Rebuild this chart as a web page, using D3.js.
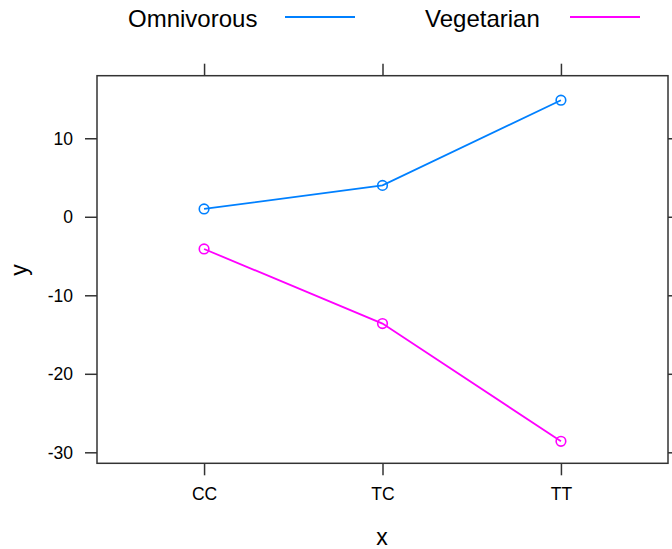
<!DOCTYPE html>
<html>
<head>
<meta charset="utf-8">
<script src="https://cdn.jsdelivr.net/npm/d3@7"></script>
<style>
  html, body { margin: 0; padding: 0; background: #fff; }
  svg { display: block; font-family: "Liberation Sans", Arial, Helvetica, sans-serif; }
</style>
</head>
<body>
<svg id="chart" width="672" height="549"></svg>
<script>
// ---- data ----
const categories = ["CC", "TC", "TT"];
const seriesNames = ["Omnivorous", "Vegetarian"];
const omnivorous = [1.0, 4.0, 14.85];
const vegetarian = [-4.1, -13.6, -28.6];
const yTicks = [-30, -20, -10, 0, 10];
const colors = ["#0080ff", "#ff00ff"];

const series = [omnivorous, vegetarian];

const svg = d3.select("#chart");
const pLeft = 97, pRight = 668, pTop = 75.7, pBottom = 463.3;

// x: factor levels 1..n with 0.6 padding (lattice style)
const x = d3.scaleLinear()
  .domain([1 - 0.6, categories.length + 0.6])
  .range([pLeft, pRight]);
const y = d3.scaleLinear()
  .domain([-31.4, 17.97])
  .range([pBottom, pTop]);

const axisColor = "#333";
const tickLen = 12;

// bottom axis
const xAxisB = d3.axisBottom(x)
  .tickValues(categories.map((c, i) => i + 1))
  .tickFormat((d) => categories[d - 1])
  .tickSize(tickLen).tickPadding(12);
const gB = svg.append("g").attr("transform", `translate(0,${pBottom})`).call(xAxisB);
// top axis (ticks only)
const xAxisT = d3.axisTop(x)
  .tickValues(categories.map((c, i) => i + 1))
  .tickFormat("")
  .tickSize(tickLen);
const gT = svg.append("g").attr("transform", `translate(0,${pTop})`).call(xAxisT);
// left axis
const yAxisL = d3.axisLeft(y).tickValues(yTicks).tickFormat(d => String(d))
  .tickSize(tickLen).tickPadding(12);
const gL = svg.append("g").attr("transform", `translate(${pLeft},0)`).call(yAxisL);
// right axis (ticks only)
const yAxisR = d3.axisRight(y).tickValues(yTicks).tickFormat("").tickSize(tickLen);
const gR = svg.append("g").attr("transform", `translate(${pRight},0)`).call(yAxisR);

[gB, gT, gL, gR].forEach(g => {
  g.select(".domain").remove();
  g.selectAll(".tick line").attr("stroke", axisColor).attr("stroke-width", 1.5);
  g.selectAll(".tick text").attr("fill", "#000").style("font-size", "17.5px")
    .style("font-family", "'Liberation Sans', Arial, sans-serif");
});
gL.selectAll(".tick text").attr("dy", "0.35em");

// panel box
svg.append("rect")
  .attr("x", pLeft).attr("y", pTop)
  .attr("width", pRight - pLeft).attr("height", pBottom - pTop)
  .attr("fill", "none").attr("stroke", axisColor).attr("stroke-width", 1.5);

// lines and points
const line = d3.line().x((d, i) => x(i + 1)).y(d => y(d));
series.forEach((vals, si) => {
  svg.append("path")
    .datum(vals)
    .attr("d", line)
    .attr("fill", "none")
    .attr("stroke", colors[si])
    .attr("stroke-width", 1.8);
  svg.selectAll(null)
    .data(vals)
    .enter().append("circle")
    .attr("cx", (d, i) => x(i + 1))
    .attr("cy", d => y(d))
    .attr("r", 4.8)
    .attr("fill", "none")
    .attr("stroke", colors[si])
    .attr("stroke-width", 1.6);
});

// axis labels
svg.append("text")
  .attr("x", (pLeft + pRight) / 2 - 0.5).attr("y", 545)
  .attr("text-anchor", "middle")
  .style("font-size", "23px")
  .text("x");
svg.append("text")
  .attr("transform", `translate(27,270) rotate(-90)`)
  .attr("text-anchor", "middle")
  .style("font-size", "23px")
  .text("y");

// legend
const legendItems = [
  { name: seriesNames[0], tx: 128, lx1: 285, lx2: 355 },
  { name: seriesNames[1], tx: 425, lx1: 570, lx2: 640 }
];
legendItems.forEach((it, i) => {
  svg.append("text")
    .attr("x", it.tx).attr("y", 26.5)
    .style("font-size", "24px")
    .attr("fill", "#000")
    .text(it.name);
  svg.append("line")
    .attr("x1", it.lx1).attr("x2", it.lx2)
    .attr("y1", 17).attr("y2", 17)
    .attr("stroke", colors[i])
    .attr("stroke-width", 1.8);
});
</script>
</body>
</html>
